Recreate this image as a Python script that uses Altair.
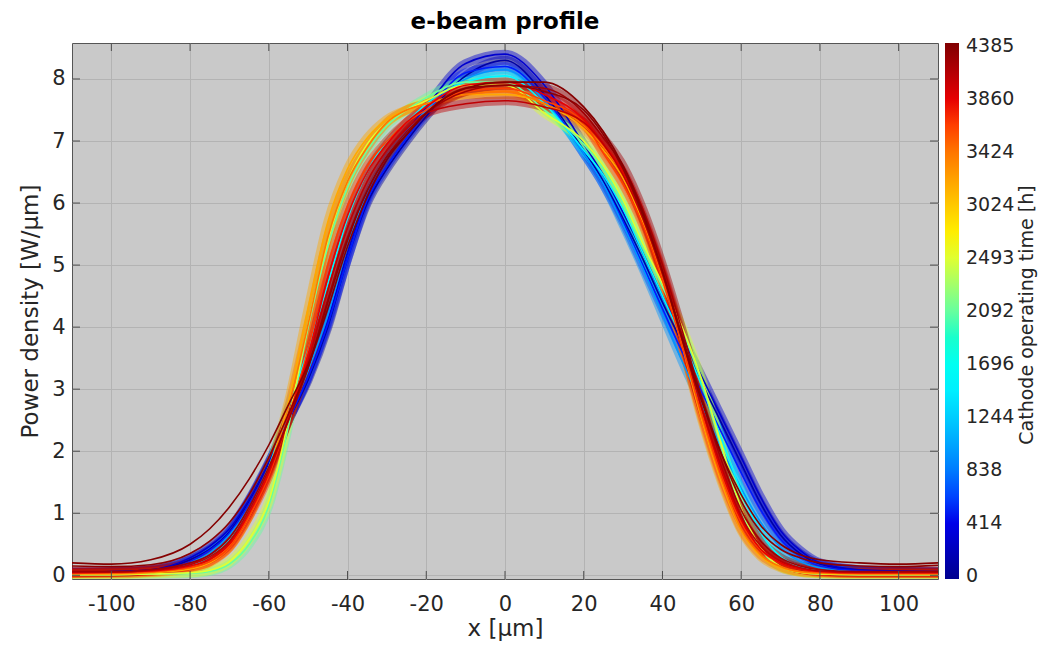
import altair as alt
import pandas as pd

# ---------------- data ----------------
X_UM = [-110, -100, -90, -80, -75, -70, -65, -60, -55, -50, -45, -40, -35, -30, -25, -20,
        -10, 0, 10, 20, 25, 30, 35, 40, 45, 50, 55, 60, 65, 70, 75, 80, 90, 100, 110]

# position of each profile on the colour bar (0 .. 10 = evenly spaced colour-bar ticks)
SERIES_NAMES = ["DB1", "DB2", "B", "LB", "C", "G", "Y", "O1", "O2", "R1", "R2", "R3", "R4", "DR2", "DR"]
SERIES_POS = [0.2, 0.7, 1.3, 2.3, 3.6, 5.0, 6.0, 7.4, 8.0, 8.5, 9.0, 9.4, 9.7, 9.9, 10.0]

P_DB1 = [0.05, 0.05, 0.08, 0.25, 0.42, 0.7, 1.2, 1.8, 2.5, 3.15, 4.0, 5.1, 6.0, 6.55, 7.0, 7.4,
         8.05, 8.3, 7.75, 6.85, 6.35, 5.75, 5.1, 4.4, 3.75, 3.1, 2.45, 1.8, 1.15, 0.65, 0.35, 0.18, 0.08, 0.06, 0.05]
P_DB2 = [0.05, 0.06, 0.09, 0.28, 0.47, 0.75, 1.22, 1.82, 2.5, 3.2, 4.1, 5.2, 6.1, 6.7, 7.15, 7.55,
         8.25, 8.4, 7.9, 6.95, 6.45, 5.85, 5.2, 4.5, 3.85, 3.2, 2.55, 1.9, 1.25, 0.72, 0.4, 0.2, 0.09, 0.07, 0.06]
P_B = [0.04, 0.05, 0.07, 0.22, 0.4, 0.68, 1.15, 1.75, 2.5, 3.2, 4.05, 5.1, 6.05, 6.6, 7.05, 7.45,
       8.1, 8.2, 7.7, 6.8, 6.3, 5.7, 5.0, 4.3, 3.6, 2.95, 2.3, 1.65, 1.05, 0.58, 0.3, 0.15, 0.07, 0.05, 0.04]
P_LB = [0.04, 0.04, 0.06, 0.2, 0.36, 0.65, 1.1, 1.75, 2.55, 3.3, 4.2, 5.3, 6.2, 6.75, 7.15, 7.5,
        8.0, 8.15, 7.65, 6.8, 6.3, 5.65, 4.95, 4.2, 3.45, 2.75, 2.05, 1.4, 0.85, 0.45, 0.22, 0.12, 0.05, 0.04, 0.04]
P_C = [0.03, 0.03, 0.05, 0.15, 0.3, 0.58, 1.05, 1.75, 2.7, 3.65, 4.7, 5.75, 6.5, 7.0, 7.3, 7.6,
       7.95, 8.05, 7.6, 6.85, 6.45, 5.9, 5.2, 4.5, 3.8, 3.05, 2.2, 1.35, 0.68, 0.3, 0.14, 0.07, 0.04, 0.03, 0.03]
P_G = [0.01, 0.01, 0.02, 0.03, 0.06, 0.18, 0.5, 1.12, 2.4, 4.0, 5.3, 6.25, 6.85, 7.25, 7.5, 7.7,
       7.95, 7.95, 7.5, 6.95, 6.55, 6.0, 5.3, 4.65, 3.95, 3.1, 2.05, 1.05, 0.42, 0.13, 0.05, 0.02, 0.01, 0.01, 0.01]
P_Y = [0.01, 0.01, 0.02, 0.04, 0.08, 0.22, 0.58, 1.2, 2.5, 4.05, 5.4, 6.35, 6.95, 7.3, 7.5, 7.65,
       7.9, 7.9, 7.45, 7.0, 6.6, 6.05, 5.35, 4.7, 4.0, 3.15, 2.1, 1.08, 0.44, 0.14, 0.05, 0.02, 0.01, 0.01, 0.01]
P_O1 = [0.02, 0.02, 0.04, 0.1, 0.2, 0.45, 0.95, 1.7, 2.8, 4.3, 5.7, 6.55, 7.05, 7.35, 7.5, 7.6,
        7.75, 7.75, 7.6, 7.2, 6.85, 6.4, 5.7, 4.8, 3.7, 2.5, 1.5, 0.72, 0.3, 0.12, 0.05, 0.03, 0.02, 0.02, 0.02]
P_O2 = [0.03, 0.03, 0.05, 0.12, 0.22, 0.47, 0.97, 1.68, 2.7, 4.05, 5.45, 6.35, 6.9, 7.3, 7.5, 7.6,
        7.75, 7.8, 7.6, 7.25, 6.9, 6.45, 5.75, 4.85, 3.75, 2.55, 1.55, 0.75, 0.33, 0.14, 0.06, 0.04, 0.03, 0.03, 0.03]
P_R1 = [0.03, 0.04, 0.06, 0.13, 0.22, 0.45, 0.95, 1.6, 2.55, 3.65, 5.0, 5.95, 6.6, 7.0, 7.3, 7.5,
        7.8, 7.85, 7.65, 7.3, 6.8, 6.3, 5.65, 4.75, 3.7, 2.6, 1.6, 0.85, 0.4, 0.2, 0.1, 0.05, 0.03, 0.03, 0.03]
P_R2 = [0.04, 0.05, 0.07, 0.15, 0.26, 0.5, 1.0, 1.65, 2.55, 3.55, 4.8, 5.8, 6.5, 6.95, 7.3, 7.55,
        7.9, 7.95, 7.75, 7.35, 6.95, 6.5, 5.8, 4.9, 3.85, 2.7, 1.7, 0.9, 0.42, 0.2, 0.1, 0.06, 0.04, 0.04, 0.04]
P_R3 = [0.05, 0.05, 0.08, 0.17, 0.3, 0.55, 1.05, 1.7, 2.5, 3.45, 4.6, 5.6, 6.35, 6.85, 7.2, 7.45,
        7.6, 7.65, 7.55, 7.3, 6.95, 6.45, 5.75, 4.85, 3.8, 2.7, 1.75, 0.95, 0.47, 0.23, 0.12, 0.07, 0.05, 0.05, 0.05]
P_R4 = [0.06, 0.06, 0.09, 0.2, 0.33, 0.6, 1.1, 1.75, 2.5, 3.35, 4.45, 5.45, 6.2, 6.75, 7.15, 7.45,
        7.8, 7.9, 7.85, 7.45, 7.05, 6.6, 5.9, 5.0, 3.95, 2.85, 1.85, 1.05, 0.55, 0.28, 0.15, 0.09, 0.06, 0.06, 0.06]
P_DR2 = [0.15, 0.14, 0.17, 0.35, 0.55, 0.85, 1.3, 1.9, 2.6, 3.35, 4.4, 5.4, 6.2, 6.75, 7.1, 7.45,
         7.85, 7.9, 7.8, 7.5, 7.1, 6.55, 5.8, 4.9, 3.85, 2.85, 1.95, 1.2, 0.7, 0.42, 0.28, 0.2, 0.15, 0.14, 0.16]
P_DR = [0.2, 0.18, 0.25, 0.5, 0.75, 1.1, 1.55, 2.1, 2.75, 3.4, 4.3, 5.3, 6.1, 6.7, 7.1, 7.45,
        7.85, 7.95, 7.95, 7.55, 7.15, 6.6, 5.85, 4.9, 3.8, 2.8, 1.95, 1.3, 0.8, 0.5, 0.33, 0.25, 0.2, 0.18, 0.2]

PROFILES = [P_DB1, P_DB2, P_B, P_LB, P_C, P_G, P_Y, P_O1, P_O2, P_R1, P_R2, P_R3, P_R4, P_DR2, P_DR]

TIME_LABELS = ["0", "414", "838", "1244", "1696", "2092", "2493", "3024", "3424", "3860", "4385"]
X_TICKS = [-100, -80, -60, -40, -20, 0, 20, 40, 60, 80, 100]
Y_TICKS = [0, 1, 2, 3, 4, 5, 6, 7, 8]

# ---------------- build table ----------------
rows = []
for k, (name, pos, prof) in enumerate(zip(SERIES_NAMES, SERIES_POS, PROFILES)):
    for xv, yv in zip(X_UM, prof):
        rows.append({"series": f"{k:02d}_{name}", "pos": pos, "x": xv, "y": yv})
df = pd.DataFrame(rows)

FONT = "DejaVu Sans"
TXT = "#262626"
W, H = 866, 536
XDOM = [-110, 110]
YDOM = [-0.06, 8.58]
GRID = "#b3b3b3"

jet_domain = [-0.05, 1.25, 3.75, 6.25, 8.75, 10.05]
jet_range = ["#00008f", "#0000ff", "#00ffff", "#ffff00", "#ff0000", "#800000"]
label_expr = "[" + ",".join(f"'{t}'" for t in TIME_LABELS) + "][round(datum.value)]"
minus_expr = "datum.value < 0 ? '-' + abs(datum.value) : '' + datum.value"

xs = alt.Scale(domain=XDOM, nice=False, zero=False)
ys = alt.Scale(domain=YDOM, nice=False, zero=False)
cs = alt.Scale(domain=jet_domain, range=jet_range)

AX = alt.Axis(values=X_TICKS, title="x [μm]", grid=True, ticks=False, domain=False,
              labelExpr=minus_expr,
              labelFontSize=21, titleFontSize=23, labelPadding=14, titlePadding=3,
              labelFont=FONT, titleFont=FONT, labelColor=TXT, titleColor=TXT,
              titleFontWeight="normal", gridColor=GRID, labelFlush=False)
AY = alt.Axis(values=Y_TICKS, title="Power density [W/μm]", grid=True, ticks=False,
              domain=False, labelFontSize=21, titleFontSize=23, labelPadding=7,
              titlePadding=9, labelFont=FONT, titleFont=FONT, labelColor=TXT,
              titleColor=TXT, titleFontWeight="normal", gridColor=GRID, labelFlush=False)

LEG = alt.Legend(orient="none", legendX=W + 7, legendY=0, direction="vertical",
                 gradientLength=H, gradientThickness=14, gradientStrokeWidth=0,
                 values=list(range(11)), labelExpr=label_expr, title=None,
                 labelFontSize=19, labelFont=FONT, labelColor=TXT,
                 labelOffset=7, labelOverlap=False)

enc_common = dict(
    x=alt.X("x:Q", scale=xs, axis=AX),
    y=alt.Y("y:Q", scale=ys, axis=AY),
    color=alt.Color("pos:Q", scale=cs, legend=LEG),
    detail="series:N",
    order=alt.Order("x:Q"),
)
band = alt.Chart(df).transform_filter("datum.pos < 9.85").mark_line(
    interpolate="monotone", strokeWidth=9, strokeOpacity=0.45, clip=True
).encode(**enc_common)
lines = alt.Chart(df).mark_line(
    interpolate="monotone", strokeWidth=1.6, clip=True
).encode(**enc_common)

tick_len = 8
xt = pd.DataFrame({"x": X_TICKS})
yt = pd.DataFrame({"y": Y_TICKS})
tick_style = dict(color="#4d4d4d", strokeWidth=1)
bottom_ticks = alt.Chart(xt).mark_rule(**tick_style).encode(
    x=alt.X("x:Q", scale=xs, axis=AX), y=alt.value(H), y2=alt.value(H - tick_len))
top_ticks = alt.Chart(xt).mark_rule(**tick_style).encode(
    x=alt.X("x:Q", scale=xs, axis=AX), y=alt.value(0), y2=alt.value(tick_len))
left_ticks = alt.Chart(yt).mark_rule(**tick_style).encode(
    y=alt.Y("y:Q", scale=ys, axis=AY), x=alt.value(0), x2=alt.value(tick_len))
right_ticks = alt.Chart(yt).mark_rule(**tick_style).encode(
    y=alt.Y("y:Q", scale=ys, axis=AY), x=alt.value(W), x2=alt.value(W - tick_len))

cb_title = alt.Chart(pd.DataFrame({"t": ["Cathode operating time [h]"]})).mark_text(
    angle=270, fontSize=19, font=FONT, color=TXT, baseline="middle", align="center"
).encode(x=alt.value(W + 89), y=alt.value(H / 2 + 4), text="t:N")

chart = alt.layer(band, lines, bottom_ticks, top_ticks, left_ticks, right_ticks, cb_title).properties(
    width=W, height=H,
    autosize=alt.AutoSizeParams(type="none"),
    padding={"left": 64, "top": 35, "right": 101, "bottom": 63},
    title=alt.TitleParams("e-beam profile", fontSize=23, fontWeight="bold", font=FONT,
                          color="#000000", anchor="middle", offset=9),
    background="white",
).configure_view(fill="#c9c9c9", stroke="#555555", strokeWidth=1)

chart.save("out.html", embed_options={"renderer": "svg", "actions": False})
